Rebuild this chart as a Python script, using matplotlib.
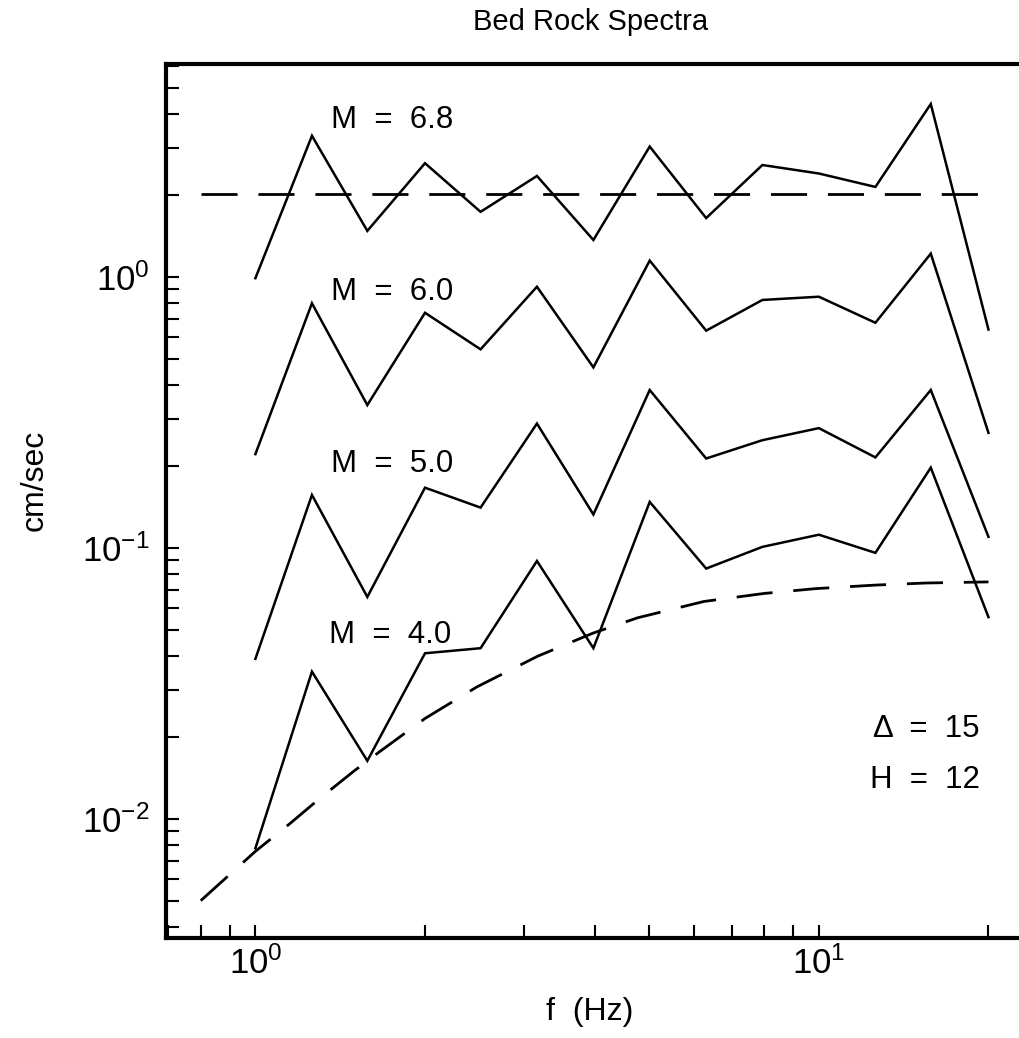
import matplotlib
matplotlib.use("Agg")
import matplotlib.pyplot as plt
from matplotlib.ticker import LogLocator, NullFormatter

plt.rcParams['font.family'] = ['Liberation Sans', 'DejaVu Sans']

# frequencies (Hz) of the spectral points
freq = [1.0, 1.26, 1.58, 2.0, 2.51, 3.16, 3.98, 5.01, 6.31, 7.94, 10.0, 12.6, 15.8, 20.0]

# bed rock spectra (cm/sec) for each magnitude
m68 = [0.99, 3.32, 1.48, 2.63, 1.74, 2.36, 1.37, 3.03, 1.65, 2.59, 2.41, 2.15, 4.35, 0.64]
m60 = [0.222, 0.80, 0.337, 0.738, 0.541, 0.921, 0.464, 1.15, 0.634, 0.823, 0.846, 0.678, 1.22, 0.266]
m50 = [0.039, 0.157, 0.066, 0.167, 0.141, 0.288, 0.133, 0.383, 0.214, 0.25, 0.277, 0.216, 0.383, 0.11]
m40 = [0.0078, 0.035, 0.0164, 0.0409, 0.0427, 0.0896, 0.0427, 0.148, 0.084, 0.101, 0.112, 0.096, 0.198, 0.0556]

labels = ["M  =  6.8", "M  =  6.0", "M  =  5.0", "M  =  4.0"]
label_f = [1.36, 1.36, 1.36, 1.35]
label_v = [3.55, 0.822, 0.19, 0.0446]

# dashed reference curves
hi_f = [0.8, 20.0]
hi_v = [2.02, 2.02]
lo_f = [0.8, 1.0, 1.15, 1.3, 1.5, 1.66, 2.0, 2.47, 3.17, 3.97, 4.77, 6.25, 8.0, 9.84, 12.6, 15.5, 20.0]
lo_v = [0.0050, 0.0076, 0.0096, 0.0119, 0.0151, 0.0177, 0.0235, 0.0307, 0.0399, 0.0485,
        0.0553, 0.0635, 0.0680, 0.0708, 0.0730, 0.0743, 0.0750]

fig = plt.figure(figsize=(10.19, 10.38), dpi=100)
ax = fig.add_axes([166 / 1019, 100 / 1038, 864 / 1019, 874 / 1038])
ax.set_xscale('log')
ax.set_yscale('log')
ax.set_xlim(0.694, 23.7)
ax.set_ylim(0.00364, 6.11)

for vals in [m68, m60, m50, m40]:
    ax.plot(freq, vals, color='black', lw=1.8, solid_joinstyle='miter')

dash = (0, (13, 7.5))
ax.plot(hi_f, hi_v, color='black', lw=2.0, linestyle=dash)
ax.plot(lo_f, lo_v, color='black', lw=2.0, linestyle=dash)

for txt, f, v in zip(labels, label_f, label_v):
    ax.text(f, v, txt, fontsize=22.5, ha='left', va='baseline')

ax.text(19.3, 0.0201, "\u0394  =  15", fontsize=22.5, ha='right', va='baseline')
ax.text(19.3, 0.0130, "H  =  12", fontsize=22.5, ha='right', va='baseline')

# axes styling
for side in ['left', 'bottom', 'top', 'right']:
    ax.spines[side].set_linewidth(3)
ax.xaxis.set_major_locator(LogLocator(base=10, numticks=10))
ax.xaxis.set_minor_locator(LogLocator(base=10, subs=range(2, 10), numticks=20))
ax.yaxis.set_major_locator(LogLocator(base=10, numticks=10))
ax.yaxis.set_minor_locator(LogLocator(base=10, subs=range(2, 10), numticks=20))
ax.xaxis.set_minor_formatter(NullFormatter())
ax.yaxis.set_minor_formatter(NullFormatter())
ax.tick_params(which='both', direction='in', length=9.5, width=1.5,
               top=False, right=False, labelsize=25)
ax.tick_params(axis='y', which='both', pad=12)
ax.tick_params(axis='x', which='both', pad=6)

fig.text(591 / 1019, 1 - 22 / 1038, "Bed Rock Spectra", fontsize=21, ha='center', va='center')
fig.text(590 / 1019, 1 - 1012 / 1038, "f  (Hz)", fontsize=23, ha='center', va='center')
fig.text(35 / 1019, 1 - 480 / 1038, "cm/sec", fontsize=23, rotation=90, ha='center', va='center')

fig.savefig("out.png", dpi=100)
